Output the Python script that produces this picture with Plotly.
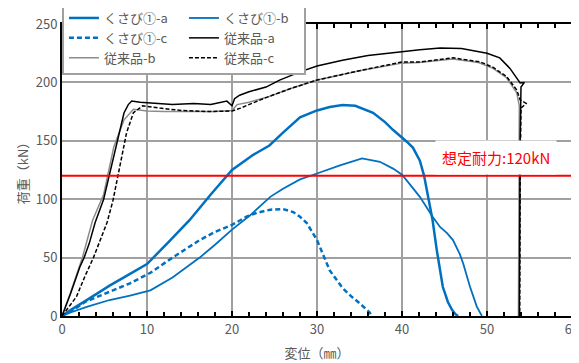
import plotly.graph_objects as go

# ---- data (displacement mm, load kN) ----
wa_x = [0, 1, 3, 5.6, 8, 10, 12.5, 15, 17.5, 20, 22.5, 24.4, 26, 28, 30, 31.5, 33, 34.5, 36.6, 38, 39, 40, 40.6, 41.3, 42.1, 42.6, 43.3, 43.6, 44.1, 44.8, 45.4, 45.9, 46.3, 46.6]
wa_y = [0, 5, 14, 26, 36, 44.5, 63, 82, 104, 125, 138, 146, 157, 170, 176, 179, 180.6, 180, 174, 166, 159, 153, 149, 144, 133, 120, 91, 82, 56, 25, 12, 5, 1.5, 0]

wb_x = [0, 1, 3, 5.6, 8, 10.4, 13, 16.2, 18, 20, 22.1, 24.5, 26, 28, 30, 32.7, 35.3, 37.4, 39, 40, 41, 42.1, 43.6, 44.5, 45.3, 46, 46.8, 47.2, 48, 48.8, 49.4]
wb_y = [0, 3, 8, 13.7, 17.5, 22, 33, 50, 61, 74, 86, 102, 109, 117, 122, 129, 135, 132, 126, 121, 112, 102, 85, 76, 71, 65, 53, 45, 25, 8, 0]

wc_x = [0, 1.7, 2.7, 3.7, 5.6, 8, 10.4, 13, 16.2, 18, 20, 21.7, 23, 24.5, 26, 27.2, 28, 28.8, 30, 31.5, 33, 34, 35, 35.8, 36.2, 36.4]
wc_y = [0, 7, 12, 15, 20.8, 28, 37, 50, 65, 72, 78, 85, 88.5, 91, 91.6, 89, 85, 79.6, 65, 39, 24, 17, 11, 6, 3, 0]

ca_x = [0, 1, 2.1, 2.6, 3.2, 3.9, 4.9, 6.1, 6.8, 7.3, 7.8, 8.2, 9.2, 10, 11.5, 13, 15.5, 17.5, 19.4, 20, 20.3, 20.9, 22, 24, 25.6, 28, 30, 33, 36, 40, 42.1, 44.5, 47, 50, 51.5, 52.7, 53.5, 53.9, 54.4, 54.0, 53.9, 53.8]
ca_y = [0, 19, 42, 50, 62, 80, 100, 137, 160, 174, 181, 184, 183, 182.5, 182, 181, 182, 181, 184, 180, 186, 189, 192, 196, 202, 209, 214, 219, 223, 226.5, 228, 229.5, 229, 225, 221, 212, 204, 199.5, 200, 196, 150, 0]

cb_x = [0, 1, 2.4, 3.6, 4.9, 6.1, 7.3, 8.4, 10, 12, 15.5, 18, 20, 20.6, 22, 24, 27, 30, 35, 40, 42, 46, 49, 50.7, 52.3, 53.5, 53.8, 53.7]
cb_y = [0, 20, 50, 82, 104, 145, 168, 177, 175.5, 175, 175, 175, 176, 181, 183, 187, 195, 202, 210, 216.5, 217, 220, 217, 212, 204, 191, 180, 0]

cc_x = [0, 1.7, 2.7, 3.7, 4.5, 5.3, 6, 6.8, 7.6, 8.4, 9.5, 11.5, 14, 17, 20, 21, 24, 27, 30, 35, 40, 42.1, 46, 49.2, 50.7, 52.3, 53.5, 53.9, 54.6, 54.0, 53.9, 53.85]
cc_y = [0, 16.5, 34, 50, 65, 80, 99, 128, 157, 174, 180, 178, 176, 175, 175.5, 178, 187, 195, 202, 210, 217.5, 217.5, 221, 217.5, 213, 205, 193.5, 185, 182, 178, 120, 0]

design_load = 120
x_range = [0, 60]
y_range = [0, 250]

BLUE = "#0070C0"
FONT = "Noto Sans CJK JP"
GREY_TXT = "#595959"
GRID = "#A0A0A0"

fig = go.Figure()
fig.add_trace(go.Scatter(x=wa_x, y=wa_y, mode="lines", name="くさび①-a",
                         line=dict(color=BLUE, width=2.5), legendrank=1))
fig.add_trace(go.Scatter(x=wb_x, y=wb_y, mode="lines", name="くさび①-b",
                         line=dict(color=BLUE, width=1.8), legendrank=2))
fig.add_trace(go.Scatter(x=wc_x, y=wc_y, mode="lines", name="くさび①-c",
                         line=dict(color=BLUE, width=2.5, dash="5px,3px"), legendrank=3))
fig.add_trace(go.Scatter(x=cb_x, y=cb_y, mode="lines", name="従来品-b",
                         line=dict(color="#8C8C8C", width=1.5), legendrank=5))
fig.add_trace(go.Scatter(x=cc_x, y=cc_y, mode="lines", name="従来品-c",
                         line=dict(color="black", width=1.5, dash="4px,2px"), legendrank=6))
fig.add_trace(go.Scatter(x=ca_x, y=ca_y, mode="lines", name="従来品-a",
                         line=dict(color="black", width=1.5), legendrank=4))
fig.add_trace(go.Scatter(x=x_range, y=[design_load, design_load], mode="lines",
                         line=dict(color="#FF0000", width=2), showlegend=False, hoverinfo="skip"))

fig.add_annotation(x=51, y=136, xref="x", yref="y", text="想定耐力:120kN", showarrow=False,
                   font=dict(family=FONT, size=15, color="#FF0000"),
                   bgcolor="white", borderpad=6)

fig.update_layout(
    width=571, height=355,
    margin=dict(l=54, r=7, t=16, b=47, autoexpand=False),
    plot_bgcolor="white", paper_bgcolor="white",
    font=dict(family=FONT, size=13, color=GREY_TXT),
    showlegend=True,
    legend=dict(orientation="h", x=-0.0001, xanchor="left", y=0.8253, yanchor="bottom",
                entrywidth=75, entrywidthmode="pixels",
                bgcolor="white", bordercolor="#A0A0A0", borderwidth=2,
                font=dict(family=FONT, size=13, color=GREY_TXT),
                traceorder="normal"),
)
fig.update_xaxes(range=x_range, tickmode="linear", tick0=0, dtick=10,
                 showgrid=True, gridcolor=GRID, gridwidth=2,
                 showline=True, linecolor="black", linewidth=2, mirror="all",
                 ticks="inside", ticklen=5, tickwidth=2, tickcolor="black", zeroline=False,
                 minor=dict(dtick=2, ticks="inside", ticklen=4, tickwidth=2, tickcolor="black", showgrid=False),
                 ticklabeloverflow="allow",
                 tickfont=dict(family=FONT, size=13, color=GREY_TXT),
                 title=dict(text="変位（㎜）", font=dict(family=FONT, size=13, color=GREY_TXT), standoff=12))
fig.update_yaxes(range=y_range, tickmode="linear", tick0=0, dtick=50,
                 showgrid=True, gridcolor=GRID, gridwidth=2,
                 showline=True, linecolor="black", linewidth=2, mirror="all",
                 ticks="", zeroline=False,
                 tickfont=dict(family=FONT, size=13, color=GREY_TXT),
                 title=dict(text="荷重（kN）", font=dict(family=FONT, size=13, color=GREY_TXT), standoff=4))

fig.write_html("out.html")
